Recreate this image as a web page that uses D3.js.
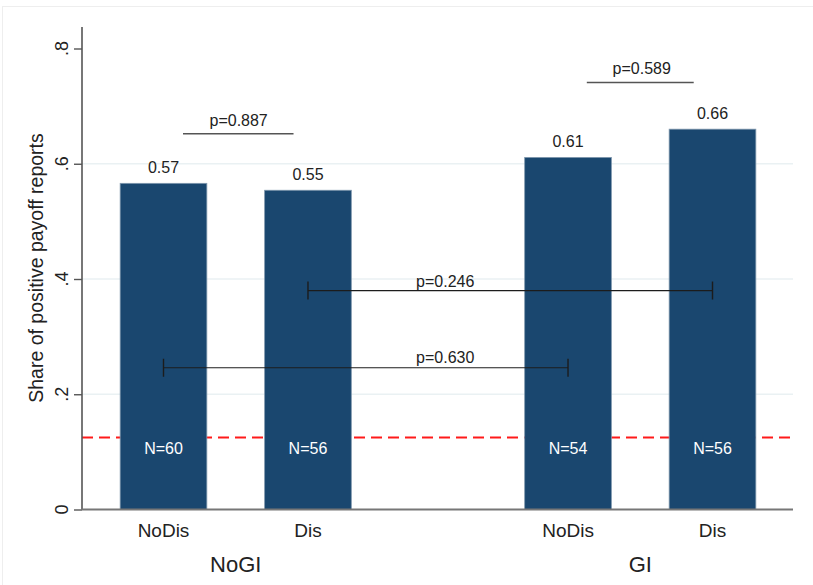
<!DOCTYPE html>
<html>
<head>
<meta charset="utf-8">
<script src="https://cdn.jsdelivr.net/npm/d3@7"></script>
<style>
  body { margin: 0; background: #fff; }
  text { font-family: Arial, "Liberation Sans", sans-serif; }
</style>
</head>
<body>
<script>
// bars
const categories = ["NoDis", "Dis", "NoDis", "Dis"];
const positions = [1, 2, 3.8, 4.8];
const shares = [0.566, 0.554, 0.611, 0.660];
const valueLabels = ["0.57", "0.55", "0.61", "0.66"];
const nLabels = ["N=60", "N=56", "N=54", "N=56"];

// groups under the categories
const groups = ["NoGI", "GI"];
const groupPositions = [1.5, 4.3];

// y axis
const yTicks = [0, 0.2, 0.4, 0.6, 0.8];
const yTickLabels = ["0", ".2", ".4", ".6", ".8"];
const gridTicks = [0.2, 0.4, 0.6];
const refLine = 0.125;

// p-value brackets
const testLabels = ["p=0.887", "p=0.589", "p=0.246", "p=0.630"];
const testFrom = [1.135, 3.93, 2, 1];
const testTo = [1.9, 4.67, 4.8, 3.8];
const testY = [0.652, 0.741, 0.38, 0.246];
const testTextX = [1.52, 4.31, 2.95, 2.95];
const testTextY = [0.666, 0.755, 0.386, 0.254];
const testCaps = [false, false, true, true];

window.onload = function () {

  function getDimensions() {
    const DIMENSIONS = {
      width: 813,
      height: 585,
      plot: { left: 82, right: 793, top: 27, bottom: 509.5 }
    }
    return DIMENSIONS
  }

  function barChart() {
    const DM = getDimensions();

    const SVG = d3.select('body')
                  .append('svg')
                  .attr('width', DM.width)
                  .attr('height', DM.height);

    // faint frame of the graph region
    SVG.append('rect')
       .attr('x', 2.5).attr('y', 6.5)
       .attr('width', 830).attr('height', 600)
       .attr('fill', 'none')
       .attr('stroke', '#eeeeee');

    const xScale = d3.scaleLinear()
                     .domain([1, 4.8])
                     .range([163.5, 712.5]);
    const yScale = d3.scaleLinear()
                     .domain([0, 0.8])
                     .range([DM.plot.bottom, 48.5]);

    // gridlines
    SVG.selectAll('.grid')
       .data(gridTicks)
       .enter().append('line')
       .attr('x1', DM.plot.left).attr('x2', DM.plot.right)
       .attr('y1', d => yScale(d)).attr('y2', d => yScale(d))
       .attr('stroke', '#eaf1f3')
       .attr('stroke-width', 1.5);

    // reference line (sits behind the bars)
    SVG.append('line')
       .attr('x1', DM.plot.left).attr('x2', DM.plot.right)
       .attr('y1', yScale(refLine)).attr('y2', yScale(refLine))
       .attr('stroke', '#ff1a1a')
       .attr('stroke-width', 2)
       .attr('stroke-dasharray', '11,6');

    // bars
    SVG.selectAll('.bar')
       .data(shares)
       .enter().append('rect')
       .attr('x', (d, i) => xScale(positions[i] - 0.3))
       .attr('width', (d, i) => xScale(positions[i] + 0.3) - xScale(positions[i] - 0.3))
       .attr('y', d => yScale(d))
       .attr('height', d => yScale(0) - yScale(d))
       .attr('fill', '#1a476f')
       .attr('stroke', '#7f97ad')
       .attr('stroke-width', 0.8);

    // value labels above bars
    SVG.selectAll('.val')
       .data(valueLabels)
       .enter().append('text')
       .attr('x', (d, i) => xScale(positions[i]))
       .attr('y', (d, i) => yScale(shares[i]) - 10)
       .attr('text-anchor', 'middle')
       .attr('font-size', 16)
       .attr('fill', '#222')
       .text(d => d);

    // N labels inside bars
    SVG.selectAll('.nlab')
       .data(nLabels)
       .enter().append('text')
       .attr('x', (d, i) => xScale(positions[i]))
       .attr('y', yScale(0.096))
       .attr('text-anchor', 'middle')
       .attr('font-size', 16)
       .attr('fill', '#ffffff')
       .text(d => d);

    // p-value brackets
    testLabels.forEach(function (lab, i) {
      const g = SVG.append('g');
      const y = yScale(testY[i]);
      const col = testCaps[i] ? '#1c1c1c' : '#555555';
      g.append('line')
       .attr('x1', xScale(testFrom[i])).attr('x2', xScale(testTo[i]))
       .attr('y1', y).attr('y2', y)
       .attr('stroke', col)
       .attr('stroke-width', testCaps[i] ? 1.2 : 1.6);
      if (testCaps[i]) {
        [testFrom[i], testTo[i]].forEach(function (p) {
          g.append('line')
           .attr('x1', xScale(p)).attr('x2', xScale(p))
           .attr('y1', y - 9).attr('y2', y + 9)
           .attr('stroke', col)
           .attr('stroke-width', 1.4);
        });
      }
      g.append('text')
       .attr('x', xScale(testTextX[i]))
       .attr('y', yScale(testTextY[i]))
       .attr('text-anchor', 'middle')
       .attr('font-size', 16)
       .attr('fill', '#222')
       .text(lab);
    });

    // y axis
    let yAxis = d3.axisLeft(yScale)
                  .tickValues(yTicks)
                  .tickSize(8)
                  .tickFormat('');
    const yG = SVG.append('g')
                  .attr('transform', `translate(${DM.plot.left},0)`)
                  .call(yAxis);
    yG.select('.domain').remove();
    yG.selectAll('.tick line').attr('stroke', '#555').attr('stroke-width', 1.4);
    SVG.append('line')
       .attr('x1', DM.plot.left).attr('x2', DM.plot.left)
       .attr('y1', DM.plot.top).attr('y2', DM.plot.bottom)
       .attr('stroke', '#555').attr('stroke-width', 1.6);

    SVG.selectAll('.ytl')
       .data(yTickLabels)
       .enter().append('text')
       .attr('transform', (d, i) => `translate(68,${yScale(yTicks[i])}) rotate(-90)`)
       .attr('text-anchor', 'middle')
       .attr('font-size', 18)
       .attr('fill', '#222')
       .text(d => d);

    SVG.append('text')
       .attr('transform', 'translate(43,268) rotate(-90)')
       .attr('text-anchor', 'middle')
       .attr('font-size', 19.5)
       .attr('fill', '#222')
       .text('Share of positive payoff reports');

    // x axis
    SVG.append('line')
       .attr('x1', DM.plot.left).attr('x2', DM.plot.right)
       .attr('y1', DM.plot.bottom).attr('y2', DM.plot.bottom)
       .attr('stroke', '#777').attr('stroke-width', 2);

    SVG.selectAll('.cat')
       .data(categories)
       .enter().append('text')
       .attr('x', (d, i) => xScale(positions[i]))
       .attr('y', 537)
       .attr('text-anchor', 'middle')
       .attr('font-size', 19)
       .attr('fill', '#222')
       .text(d => d);

    SVG.selectAll('.grp')
       .data(groups)
       .enter().append('text')
       .attr('x', (d, i) => xScale(groupPositions[i]))
       .attr('y', 571.5)
       .attr('text-anchor', 'middle')
       .attr('font-size', 22)
       .attr('fill', '#222')
       .text(d => d);
  }

  barChart();
}
</script>
</body>
</html>
